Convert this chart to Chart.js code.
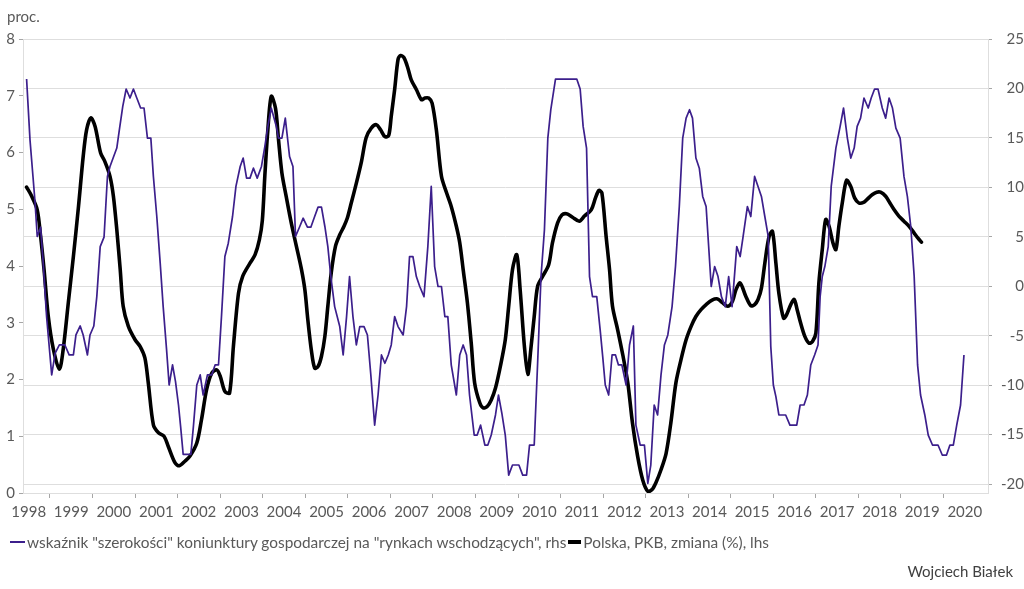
<!DOCTYPE html>
<html lang="pl">
<head>
<meta charset="utf-8">
<script src="https://cdn.jsdelivr.net/npm/chart.js@4.4.1/dist/chart.umd.min.js"></script>
<style>
  html, body { margin: 0; padding: 0; background: #ffffff; }
  #wrap { position: relative; width: 1024px; height: 589px; overflow: hidden; font-family: Lato, "Open Sans", sans-serif; }
  #chartBox { position: absolute; left: 0; top: 0; width: 1024px; height: 589px; }
  .txt { position: absolute; white-space: nowrap; color: #595959; font-size: 15px; line-height: 18px; }
  #legend { left: 10px; top: 533px; display: flex; align-items: center; font-size: 15.4px; }
  .mk { display: inline-block; }
</style>
</head>
<body>
<div id="wrap">
  <div id="chartBox"><canvas id="c"></canvas></div>
  <div class="txt" id="unit" style="left:7px; top:7px;">proc.</div>
  <div class="txt" id="legend"></div>
  <div class="txt" id="author" style="right:11px; top:562px; color:#404040;">Wojciech Białek</div>
</div>
<script>
// ---- Data ----
const seriesNames = [
  'wskaźnik "szerokości" koniunktury gospodarczej na "rynkach wschodzących", rhs',
  'Polska, PKB, zmiana (%), lhs'
];
const yearLabels = [1998,1999,2000,2001,2002,2003,2004,2005,2006,2007,2008,2009,2010,2011,2012,2013,2014,2015,2016,2017,2018,2019,2020];
const leftTicks = [0,1,2,3,4,5,6,7,8];
const rightTicks = [-20,-15,-10,-5,0,5,10,15,20,25];

// Breadth indicator (right axis), dates in decimal years
const breadthDates = [
  1998.45,1998.53,1998.60,1998.65,1998.70,1998.78,1998.84,1998.92,1999.04,1999.12,
  1999.22,1999.35,1999.45,1999.55,1999.61,1999.71,1999.78,1999.88,1999.94,2000.03,
  2000.10,2000.18,2000.27,2000.35,2000.41,2000.57,2000.63,2000.71,2000.79,2000.88,
  2000.96,2001.04,2001.13,2001.21,2001.29,2001.37,2001.43,2001.51,2001.59,2001.66,
  2001.74,2001.80,2001.88,2001.95,2002.02,2002.07,2002.13,2002.31,2002.37,2002.45,
  2002.53,2002.60,2002.70,2002.80,2002.88,2002.96,2003.03,2003.11,2003.19,2003.29,
  2003.37,2003.47,2003.54,2003.62,2003.70,2003.78,2003.87,2003.97,2004.05,2004.12,
  2004.20,2004.32,2004.37,2004.45,2004.53,2004.63,2004.71,2004.77,2004.87,2004.95,
  2005.05,2005.13,2005.22,2005.30,2005.38,2005.46,2005.53,2005.60,2005.69,2005.81,
  2005.89,2005.97,2006.04,2006.12,2006.20,2006.28,2006.38,2006.46,2006.54,2006.63,
  2006.71,2006.79,2006.87,2006.95,2007.02,2007.10,2007.18,2007.30,2007.38,2007.45,
  2007.53,2007.61,2007.69,2007.79,2007.88,2007.96,2008.04,2008.12,2008.20,2008.28,
  2008.35,2008.43,2008.55,2008.63,2008.71,2008.79,2008.86,2008.97,2009.04,2009.12,
  2009.22,2009.29,2009.37,2009.47,2009.54,2009.62,2009.70,2009.78,2009.87,2010.02,
  2010.11,2010.20,2010.27,2010.38,2010.46,2010.54,2010.62,2010.70,2010.77,2010.88,
  2011.38,2011.46,2011.53,2011.61,2011.68,2011.75,2011.85,2011.93,2011.99,2012.05,
  2012.13,2012.21,2012.29,2012.36,2012.44,2012.54,2012.62,2012.71,2012.77,2012.87,
  2012.97,2013.05,2013.12,2013.20,2013.28,2013.36,2013.44,2013.52,2013.62,2013.70,
  2013.79,2013.87,2013.95,2014.03,2014.10,2014.18,2014.26,2014.34,2014.42,2014.48,
  2014.54,2014.62,2014.70,2014.78,2014.87,2014.95,2015.03,2015.14,2015.22,2015.29,
  2015.39,2015.47,2015.56,2015.64,2015.72,2015.80,2015.88,2015.94,2016.00,2016.06,
  2016.13,2016.29,2016.39,2016.55,2016.63,2016.72,2016.80,2016.88,2016.97,2017.05,
  2017.10,2017.15,2017.21,2017.29,2017.36,2017.47,2017.57,2017.65,2017.74,2017.82,
  2017.90,2017.97,2018.05,2018.13,2018.23,2018.30,2018.38,2018.46,2018.56,2018.64,
  2018.72,2018.80,2018.88,2018.98,2019.07,2019.15,2019.23,2019.31,2019.39,2019.46,
  2019.56,2019.64,2019.74,2019.87,2019.97,2020.07,2020.15,2020.23,2020.31,2020.40,
  2020.48
];
const breadthValues = [
  20.95,14.8,11.1,8.4,5.03,5.97,2.33,-3.07,-8.97,-6.78,
  -5.94,-5.94,-6.95,-6.95,-4.93,-4.02,-4.93,-6.95,-4.93,-4.02,
  -1.05,4.01,4.96,11.1,12.11,13.97,15.82,18.18,19.94,19.03,
  19.94,19.03,18.02,18.02,14.98,14.98,11.1,7.05,2.33,-2.06,
  -6.44,-9.99,-7.96,-9.65,-12.01,-14.2,-17.0,-17.0,-14.2,-9.99,
  -8.97,-11.0,-8.97,-8.97,-7.96,-7.96,-3.07,3.0,4.35,7.05,
  10.09,12.11,12.96,10.93,10.93,11.94,10.93,12.11,14.14,16.16,
  18.02,16.16,14.98,14.98,17.0,13.12,12.11,5.03,6.04,6.88,
  5.97,5.97,7.05,8.0,8.0,6.04,4.01,0.98,-2.06,-4.08,
  -6.95,-3.07,0.98,-3.07,-5.94,-4.08,-4.08,-4.93,-8.97,-14.04,
  -11.0,-6.95,-7.79,-6.95,-5.94,-3.07,-4.08,-4.93,-2.06,3.0,
  3.0,0.98,-0.03,-1.05,4.01,10.09,1.99,-0.03,-0.03,-3.07,
  -3.07,-7.96,-11.0,-6.95,-5.94,-6.95,-11.0,-15.05,-15.05,-14.04,
  -16.06,-16.06,-15.05,-13.02,-11.0,-12.85,-15.05,-19.1,-18.08,-18.08,
  -19.1,-19.1,-16.06,-16.06,-7.79,0.98,5.7,14.98,17.85,20.95,
  20.95,19.94,16.16,13.97,0.98,-1.05,-1.05,-4.42,-7.12,-9.99,
  -11.0,-6.95,-6.95,-7.96,-7.96,-9.99,-5.94,-4.02,-14.04,-16.06,
  -16.06,-19.94,-18.08,-12.01,-13.02,-8.97,-5.94,-4.93,-2.06,1.99,
  8.06,14.98,17.0,17.85,17.0,12.96,11.94,9.08,8.06,4.01,
  -0.03,1.99,0.98,-1.05,-2.06,0.98,-2.06,4.01,3.0,5.03,
  8.06,7.05,11.1,10.09,9.08,7.05,5.03,-6.11,-9.99,-11.17,
  -13.02,-13.02,-14.04,-14.04,-12.01,-12.01,-11.0,-7.96,-6.95,-5.94,
  -1.05,0.98,1.99,4.01,10.09,13.97,16.16,18.02,14.98,12.96,
  13.97,16.16,17.0,19.03,18.02,19.03,19.94,19.94,18.02,17.0,
  19.03,18.02,15.99,14.98,11.1,9.08,6.04,0.98,-7.96,-11.0,
  -13.02,-15.05,-16.06,-16.06,-17.07,-17.07,-16.06,-16.06,-14.04,-12.01,
  -6.95
];

// Polska, PKB (left axis)
const gdpDates = [
  1998.45,1998.57,1998.70,1998.78,1998.86,1998.96,1999.08,1999.22,1999.31,1999.43,
  1999.55,1999.67,1999.78,1999.86,1999.96,2000.06,2000.19,2000.29,2000.41,2000.49,
  2000.57,2000.65,2000.72,2000.84,2001.00,2001.12,2001.23,2001.31,2001.43,2001.55,
  2001.68,2001.78,2001.94,2002.04,2002.17,2002.29,2002.45,2002.56,2002.68,2002.80,
  2002.92,2003.00,2003.11,2003.22,2003.31,2003.43,2003.53,2003.70,2003.82,2003.92,
  2003.99,2004.05,2004.12,2004.20,2004.30,2004.37,2004.45,2004.55,2004.67,2004.79,
  2004.91,2004.99,2005.06,2005.14,2005.22,2005.30,2005.38,2005.46,2005.53,2005.61,
  2005.71,2005.81,2005.91,2005.99,2006.08,2006.20,2006.32,2006.43,2006.55,2006.67,
  2006.77,2006.87,2006.96,2007.02,2007.10,2007.18,2007.24,2007.32,2007.41,2007.49,
  2007.61,2007.73,2007.81,2007.90,2007.98,2008.08,2008.20,2008.32,2008.43,2008.55,
  2008.63,2008.71,2008.81,2008.90,2008.98,2009.10,2009.18,2009.28,2009.37,2009.47,
  2009.60,2009.70,2009.78,2009.87,2009.97,2010.05,2010.15,2010.23,2010.30,2010.38,
  2010.46,2010.58,2010.72,2010.81,2010.93,2011.03,2011.14,2011.28,2011.44,2011.56,
  2011.72,2011.82,2011.90,2011.97,2012.07,2012.15,2012.22,2012.34,2012.46,2012.58,
  2012.69,2012.81,2012.93,2013.05,2013.15,2013.24,2013.36,2013.48,2013.59,2013.71,
  2013.83,2013.95,2014.07,2014.18,2014.30,2014.42,2014.56,2014.69,2014.81,2014.93,
  2015.04,2015.12,2015.22,2015.35,2015.47,2015.56,2015.64,2015.72,2015.80,2015.90,
  2015.98,2016.06,2016.13,2016.24,2016.31,2016.41,2016.49,2016.56,2016.64,2016.74,
  2016.84,2016.92,2017.00,2017.07,2017.15,2017.23,2017.31,2017.40,2017.47,2017.54,
  2017.62,2017.72,2017.82,2017.91,2018.01,2018.12,2018.21,2018.33,2018.43,2018.52,
  2018.64,2018.74,2018.84,2018.95,2019.07,2019.19,2019.31,2019.40,2019.48
];
const gdpValues = [
  5.39,5.23,4.99,4.52,3.94,3.11,2.53,2.18,2.53,3.35,
  4.17,5.05,5.93,6.40,6.61,6.46,5.99,5.84,5.58,5.23,
  4.64,3.94,3.29,2.94,2.70,2.58,2.38,1.94,1.20,1.06,
  1.00,0.82,0.53,0.48,0.56,0.65,0.88,1.29,1.82,2.11,
  2.17,2.06,1.79,1.76,2.58,3.52,3.82,4.05,4.20,4.46,
  4.80,5.60,6.40,6.99,6.78,6.23,5.64,5.23,4.76,4.35,
  3.94,3.58,3.05,2.53,2.20,2.23,2.41,2.76,3.29,3.88,
  4.35,4.55,4.70,4.85,5.11,5.46,5.84,6.26,6.43,6.49,
  6.40,6.28,6.30,6.64,7.11,7.64,7.71,7.67,7.49,7.28,
  7.11,6.93,6.96,6.96,6.87,6.40,5.58,5.29,5.05,4.70,
  4.41,3.94,3.35,2.64,1.94,1.59,1.50,1.53,1.64,1.85,
  2.29,2.70,3.29,3.94,4.20,3.58,2.58,2.09,2.53,3.11,
  3.64,3.82,4.02,4.41,4.76,4.90,4.92,4.86,4.79,4.88,
  4.99,5.20,5.33,5.29,4.52,3.94,3.29,2.88,2.44,1.94,
  1.23,0.65,0.23,0.03,0.06,0.18,0.41,0.70,1.23,1.94,
  2.35,2.70,2.94,3.11,3.23,3.32,3.40,3.42,3.35,3.29,
  3.38,3.58,3.70,3.47,3.30,3.32,3.41,3.61,4.05,4.52,
  4.61,4.05,3.52,3.08,3.14,3.32,3.41,3.23,3.00,2.76,
  2.64,2.67,2.82,3.70,4.29,4.82,4.70,4.41,4.29,4.70,
  5.11,5.51,5.40,5.20,5.11,5.12,5.18,5.26,5.30,5.30,
  5.23,5.11,4.99,4.88,4.79,4.70,4.58,4.49,4.42
];

const purple = '#3c1f8c';
const black = '#000000';
const gridColor = '#dedede';
const tickMarkColor = '#a6a6a6';
const labelColor = '#595959';

Chart.defaults.font.family = 'Lato, "Open Sans", sans-serif';
Chart.defaults.font.size = 15;
Chart.defaults.color = labelColor;

const toPoints = (xs, ys) => xs.map((x, i) => ({ x: x, y: ys[i] }));

const chart = new Chart(document.getElementById('c'), {
  type: 'line',
  data: {
    datasets: [
      {
        label: seriesNames[0],
        data: toPoints(breadthDates, breadthValues),
        yAxisID: 'yR',
        borderColor: purple,
        borderWidth: 1.7,
        tension: 0,
        pointRadius: 0,
        borderJoinStyle: 'round'
      },
      {
        label: seriesNames[1],
        data: toPoints(gdpDates, gdpValues),
        yAxisID: 'yL',
        borderColor: black,
        borderWidth: 3.6,
        tension: 0.3,
        pointRadius: 0,
        borderJoinStyle: 'round',
        borderCapStyle: 'round'
      }
    ]
  },
  options: {
    responsive: true,
    maintainAspectRatio: false,
    animation: false,
    layout: { padding: { left: 0, right: 0, top: 39, bottom: 66 } },
    plugins: { legend: { display: false }, tooltip: { enabled: false } },
    scales: {
      x: {
        type: 'linear',
        position: 'bottom',
        min: 1998.3655,
        max: 2021.045,
        afterBuildTicks: (scale) => {
          const t = [];
          yearLabels.forEach((y) => {
            t.push({ value: y + 0.5 });
            if (y < yearLabels[yearLabels.length - 1]) t.push({ value: y + 1 });
          });
          scale.ticks = t;
        },
        afterFit: (scale) => { scale.height = 30; },
        ticks: {
          autoSkip: false,
          maxRotation: 0,
          padding: 5,
          color: labelColor,
          callback: (v) => (Number.isInteger(v) ? '' : String(Math.round(v - 0.5)))
        },
        grid: {
          drawOnChartArea: false,
          tickLength: 5,
          tickColor: (ctx) => (ctx.tick && Number.isInteger(ctx.tick.value) ? tickMarkColor : 'rgba(0,0,0,0)')
        },
        border: { display: true, color: gridColor }
      },
      yL: {
        type: 'linear',
        position: 'left',
        min: 0,
        max: 8,
        afterBuildTicks: (scale) => { scale.ticks = leftTicks.map((v) => ({ value: v })); },
        afterFit: (scale) => { scale.width = 23; },
        ticks: { padding: 4, color: labelColor },
        grid: { drawOnChartArea: false, tickLength: 4, tickColor: tickMarkColor },
        border: { display: true, color: gridColor }
      },
      yR: {
        type: 'linear',
        position: 'right',
        min: -20.91,
        max: 25,
        afterBuildTicks: (scale) => { scale.ticks = rightTicks.map((v) => ({ value: v })); },
        afterFit: (scale) => { scale.width = 36; },
        ticks: { padding: 4, color: labelColor, crossAlign: 'far' },
        grid: { drawOnChartArea: true, color: gridColor, tickLength: 4, tickColor: tickMarkColor },
        border: { display: true, color: gridColor }
      }
    }
  }
});

// HTML legend built from datasets
const legend = document.getElementById('legend');
chart.data.datasets.forEach((ds, i) => {
  const mk = document.createElement('span');
  mk.className = 'mk';
  mk.style.width = i === 0 ? '15px' : '13px';
  mk.style.height = i === 0 ? '2px' : '4px';
  mk.style.background = ds.borderColor;
  mk.style.marginLeft = i === 0 ? '0px' : '2px';
  mk.style.marginRight = '2px';
  const tx = document.createElement('span');
  tx.textContent = ds.label;
  legend.appendChild(mk);
  legend.appendChild(tx);
});
</script>
</body>
</html>
